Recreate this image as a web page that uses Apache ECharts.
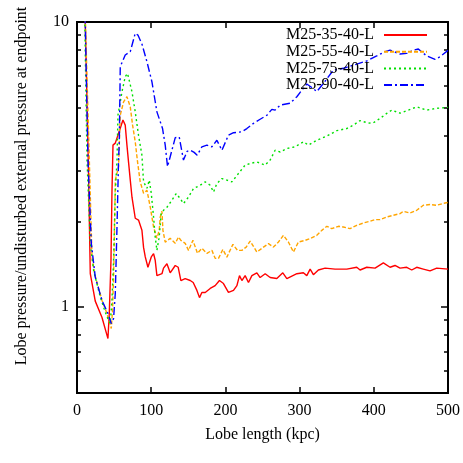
<!DOCTYPE html>
<html>
<head>
<meta charset="utf-8">
<script src="https://cdn.jsdelivr.net/npm/echarts@6/dist/echarts.min.js"></script>
<style>html,body{margin:0;padding:0;background:#fff}#c{width:463px;height:463px}</style>
</head>
<body>
<div id="c"></div>
<script>
const seriesNames = ['M25-35-40-L', 'M25-55-40-L', 'M25-75-40-L', 'M25-90-40-L'];
const yLabelValues = [1, 10];
const yMinorTicks = [0.6, 0.7, 0.8, 0.9, 2, 3, 4, 5, 6, 7, 8, 9];

const m25_35 = [[10.5,12],[15.2,3.28],[17.9,1.31],[24.6,1.05],[33.7,0.92],[41.7,0.776],[43.5,0.95],[45.8,1.46],[47.1,2.51],[48.5,3.70],[51.6,3.76],[58.3,4.24],[61.9,4.53],[65.0,4.35],[67.3,3.70],[69.5,3.22],[71.8,2.79],[74.1,2.43],[78.5,2.05],[82.9,2.02],[87.5,1.86],[89.7,1.62],[92.0,1.50],[95.6,1.38],[100.1,1.50],[103.2,1.54],[105.4,1.46],[107.7,1.29],[114.5,1.31],[116.6,1.37],[121.2,1.42],[125.6,1.32],[132.4,1.40],[136.4,1.38],[140.0,1.24],[145.8,1.26],[152.6,1.24],[156.6,1.22],[161.6,1.145],[165.1,1.08],[168.3,1.126],[172.8,1.126],[179.5,1.163],[186.2,1.19],[192.0,1.24],[197.4,1.21],[204.1,1.126],[210.9,1.145],[215.5,1.19],[219.0,1.29],[222.2,1.24],[226.6,1.29],[231.1,1.22],[235.7,1.29],[242.4,1.32],[246.8,1.27],[253.6,1.31],[260.3,1.27],[269.3,1.26],[277.4,1.32],[282.8,1.26],[296.3,1.31],[305.1,1.32],[309.7,1.29],[314.2,1.36],[318.6,1.30],[325.3,1.35],[334.4,1.37],[347.8,1.36],[363.6,1.36],[377.0,1.38],[381.5,1.35],[390.5,1.38],[401.7,1.37],[412.9,1.43],[421.9,1.38],[428.6,1.40],[435.4,1.37],[444.4,1.38],[451.1,1.35],[457.8,1.38],[466.7,1.36],[475.8,1.34],[484.8,1.37],[500,1.36]];

const m25_55 = [[10.5,12],[16.6,3.28],[20.2,1.50],[23.7,1.31],[33.7,1.056],[40.4,0.95],[46.2,0.842],[47.9,0.974],[49.3,1.275],[50.6,1.91],[51.6,2.79],[56.0,3.11],[58.3,4.71],[62.8,5.25],[67.3,5.47],[69.5,5.54],[71.8,5.04],[74.9,4.35],[78.5,3.80],[81.6,3.23],[85.2,2.75],[89.7,2.51],[94.3,2.57],[98.7,2.245],[103.2,1.91],[107.7,1.743],[110.8,1.86],[112.2,2.07],[114.5,2.17],[115.8,1.86],[118.9,1.69],[125.6,1.743],[132.4,1.674],[136.8,1.762],[140.0,1.715],[145.8,1.674],[150.3,1.582],[156.2,1.715],[162.4,1.544],[168.3,1.608],[175.1,1.544],[181.8,1.582],[186.2,1.483],[190.7,1.483],[196.6,1.594],[202.0,1.498],[210.1,1.66],[216.3,1.582],[222.2,1.582],[228.0,1.624],[233.4,1.705],[242.4,1.561],[251.3,1.624],[258.0,1.67],[264.7,1.624],[271.5,1.692],[278.2,1.786],[284.9,1.692],[291.7,1.561],[298.4,1.692],[307.4,1.715],[314.2,1.739],[323.2,1.786],[329.9,1.859],[336.7,1.921],[343.4,1.886],[352.3,1.921],[359.0,1.91],[368.0,1.886],[377.0,1.936],[385.9,1.973],[394.9,2.0],[401.7,2.028],[408.4,2.028],[417.4,2.071],[426.3,2.10],[435.4,2.128],[439.8,2.168],[448.8,2.139],[457.8,2.186],[466.7,2.277],[475.8,2.29],[484.8,2.277],[496.0,2.319],[500,2.33]];

const m25_75 = [[10,12],[13.5,3.28],[17.9,1.674],[22.4,1.346],[31.4,1.084],[38.1,0.96],[42.6,0.898],[44.8,0.877],[47.1,1.056],[49.3,1.459],[51.6,2.508],[53.9,3.28],[55.2,4.71],[60.6,5.69],[65.0,6.43],[68.1,6.60],[70.4,6.51],[74.1,5.69],[78.5,4.84],[82.9,4.01],[87.5,3.41],[89.7,2.75],[94.3,2.612],[97.4,2.79],[100.1,2.508],[103.2,2.071],[105.4,1.762],[107.7,1.582],[110.8,1.762],[113.5,2.134],[116.6,2.186],[121.2,2.24],[127.9,2.37],[133.7,2.502],[139.1,2.403],[143.5,2.308],[150.3,2.434],[157.0,2.606],[166.0,2.676],[172.8,2.749],[179.5,2.676],[184.0,2.535],[188.5,2.713],[195.3,2.825],[202.0,2.79],[208.7,2.749],[217.6,2.942],[226.6,3.15],[233.4,3.19],[242.4,3.23],[253.6,3.15],[260.3,3.28],[267.0,3.55],[273.8,3.50],[282.8,3.60],[294.0,3.65],[305.1,3.80],[311.9,3.70],[323.2,3.85],[336.7,3.98],[350.1,4.16],[363.6,4.23],[372.5,4.35],[381.5,4.51],[392.7,4.42],[399.4,4.43],[408.4,4.59],[417.4,4.78],[424.2,4.91],[435.4,4.79],[446.5,4.91],[457.8,5.04],[471.3,4.91],[484.8,4.98],[500,5.02]];

const m25_90 = [[10.5,12],[14.8,3.28],[19.3,1.674],[24.6,1.275],[33.7,1.056],[41.7,0.95],[46.2,0.877],[49.3,0.913],[51.6,1.117],[53.9,1.91],[56.0,3.28],[57.0,3.80],[58.3,6.97],[65.0,7.66],[71.8,7.87],[78.5,9.13],[82.1,9.00],[87.5,8.37],[94.3,7.25],[101.0,6.17],[107.7,4.84],[115.3,4.23],[118.9,3.70],[122.0,3.11],[125.6,3.37],[132.4,3.93],[137.8,3.95],[143.5,3.28],[148.5,3.52],[152.6,3.55],[157.9,3.49],[162.0,3.41],[168.3,3.65],[175.1,3.70],[181.8,3.65],[188.5,3.85],[195.3,3.55],[204.1,4.01],[210.9,4.09],[222.2,4.12],[228.9,4.23],[237.8,4.41],[246.8,4.56],[255.9,4.71],[262.6,4.94],[267.0,4.91],[273.8,5.11],[287.2,5.19],[296.3,5.47],[303.0,5.77],[309.7,6.06],[316.4,5.89],[323.2,5.70],[332.1,6.09],[345.5,6.78],[359.0,6.88],[372.5,7.06],[390.5,7.30],[403.9,7.60],[415.2,7.87],[421.9,7.97],[435.4,7.72],[444.4,7.76],[453.3,7.97],[460.0,8.04],[471.3,7.60],[482.5,7.40],[489.2,7.55],[500,7.95]];

const FONT = 'Liberation Serif';
const chart = echarts.init(document.getElementById('c'), null, {renderer: 'canvas'});

function axLine() { return {show: true, onZero: false, lineStyle: {color: '#000', width: 2}}; }
function tickStyle() { return {color: '#000', width: 1.5}; }
function yAx(pos, minor, labels) {
  const ax = {
    type: 'log', logBase: 10, min: 0.5, max: 10, position: pos,
    axisLine: axLine(), splitLine: {show: false},
    axisTick: {show: true, inside: true, length: minor ? 4 : 7, lineStyle: tickStyle()},
    axisLabel: labels ? {show: true, customValues: yLabelValues, fontFamily: FONT, fontSize: 16, color: '#000', margin: 8} : {show: false}
  };
  if (minor) ax.axisTick.customValues = yMinorTicks;
  return ax;
}
function xAx(pos, labels) {
  return {
    type: 'value', min: 0, max: 500, interval: 100, position: pos,
    axisLine: axLine(), splitLine: {show: false},
    axisTick: {show: true, inside: true, length: 6, lineStyle: tickStyle()},
    axisLabel: labels ? {show: true, fontFamily: FONT, fontSize: 16, color: '#000', margin: 10} : {show: false},
    name: labels ? 'Lobe length (kpc)' : '', nameLocation: 'middle', nameGap: 34,
    nameTextStyle: {fontFamily: FONT, fontSize: 16, color: '#000'}
  };
}
const colors = ['#ff0000', '#ffa500', '#00e000', '#0000ff'];
const dashes = ['solid', [4, 2], [2, 3], [8, 3, 2, 3]];
const datas = [m25_35, m25_55, m25_75, m25_90];

chart.setOption({
  animation: false,
  backgroundColor: '#fff',
  grid: {left: 77, right: 15, top: 22, bottom: 70, containLabel: false},
  xAxis: [xAx('bottom', true), xAx('top', false)],
  yAxis: [yAx('left', false, true), yAx('left', true, false), yAx('right', false, false), yAx('right', true, false)],
  legend: {
    orient: 'vertical', right: 30, top: 22, align: 'right',
    itemWidth: 43, itemHeight: 10, itemGap: 0.7,
    itemStyle: {opacity: 0},
    textStyle: {fontFamily: FONT, fontSize: 16, color: '#000', padding: [0, 5, 0, 0]},
    data: seriesNames
  },
  graphic: [{
    type: 'text', x: 22, y: 186, rotation: Math.PI / 2,
    style: {text: 'Lobe pressure/undisturbed external pressure at endpoint', font: '16px "Liberation Serif"', fill: '#000', align: 'center', verticalAlign: 'middle'}
  }],
  series: seriesNames.map((n, i) => ({
    name: n, type: 'line', data: datas[i], xAxisIndex: 0, yAxisIndex: 0,
    symbol: 'none', smooth: false, clip: true,
    lineStyle: {color: colors[i], width: 1.4, type: dashes[i]},
    itemStyle: {color: colors[i]}
  }))
});
</script>
</body>
</html>
